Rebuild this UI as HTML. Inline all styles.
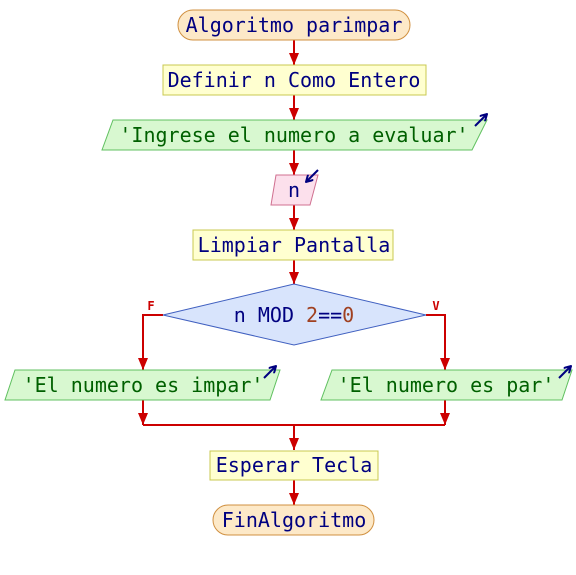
<!DOCTYPE html>
<html><head><style>
html,body{margin:0;padding:0;background:#fff;}
svg text{font-family:"DejaVu Sans Mono","Liberation Mono",monospace;font-size:20px;}
</style></head><body>
<svg width="576" height="570" viewBox="0 0 576 570" xmlns="http://www.w3.org/2000/svg">
<defs>
<marker id="a" markerWidth="12" markerHeight="10" refX="12" refY="5" orient="auto" markerUnits="userSpaceOnUse">
<path d="M0,0 L12,5 L0,10 z" fill="#cc0000"/></marker>
<marker id="b" markerWidth="8" markerHeight="8" refX="7" refY="4" orient="auto" markerUnits="userSpaceOnUse">
<path d="M0,0 L7,4 L0,8" fill="none" stroke="#000080" stroke-width="2"/></marker>
</defs>
<g stroke="#cc0000" stroke-width="2" fill="none">
<line x1="294" y1="40" x2="294" y2="65" marker-end="url(#a)"/>
<line x1="294" y1="95" x2="294" y2="120" marker-end="url(#a)"/>
<line x1="294" y1="150" x2="294" y2="175" marker-end="url(#a)"/>
<line x1="294" y1="205" x2="294" y2="230" marker-end="url(#a)"/>
<line x1="294" y1="260" x2="294" y2="284" marker-end="url(#a)"/>
<polyline points="163,315 143,315 143,370" marker-end="url(#a)"/>
<polyline points="426,315 445,315 445,370" marker-end="url(#a)"/>
<line x1="143" y1="400" x2="143" y2="425" marker-end="url(#a)"/>
<line x1="445" y1="400" x2="445" y2="425" marker-end="url(#a)"/>
<line x1="143" y1="425" x2="445" y2="425"/>
<line x1="294" y1="425" x2="294" y2="450" marker-end="url(#a)"/>
<line x1="294" y1="480" x2="294" y2="505" marker-end="url(#a)"/>
</g>
<rect x="178" y="10" width="232" height="30" rx="15" fill="#fde9c8" stroke="#d09040"/>
<rect x="163" y="65" width="263" height="30" fill="#ffffd0" stroke="#c8c850"/>
<polygon points="113,120 487,120 472,150 102,150" fill="#d8f8d0" stroke="#60c060"/>
<polygon points="276,175 318,175 310,205 271,205" fill="#fce0ec" stroke="#d07090"/>
<rect x="193" y="230" width="200" height="30" fill="#ffffd0" stroke="#c8c850"/>
<polygon points="163,315 294,284 426,315 294,345" fill="#d8e4fc" stroke="#4060c0"/>
<polygon points="15,370 280,370 270,400 5,400" fill="#d8f8d0" stroke="#60c060"/>
<polygon points="332,370 572,370 562,400 321,400" fill="#d8f8d0" stroke="#60c060"/>
<rect x="210" y="451" width="168" height="29" fill="#ffffd0" stroke="#c8c850"/>
<rect x="213" y="505" width="161" height="30" rx="15" fill="#fde9c8" stroke="#d09040"/>
<g stroke="#000080" stroke-width="2" fill="none">
<line x1="475" y1="126" x2="487" y2="114" marker-end="url(#b)"/>
<line x1="318" y1="170" x2="306" y2="182" marker-end="url(#b)"/>
<line x1="264" y1="378" x2="276" y2="366" marker-end="url(#b)"/>
<line x1="559" y1="378" x2="571" y2="366" marker-end="url(#b)"/>
</g>
<g text-anchor="middle" fill="#000080">
<text x="294" y="32">Algoritmo parimpar</text>
<text x="294" y="87">Definir n Como Entero</text>
<text x="294" y="142" fill="#006000">'Ingrese el numero a evaluar'</text>
<text x="294" y="197">n</text>
<text x="294" y="252">Limpiar Pantalla</text>
<text x="294" y="322">n MOD <tspan fill="#a04020">2</tspan>==<tspan fill="#a04020">0</tspan></text>
<text x="143" y="392" fill="#006000">'El numero es impar'</text>
<text x="446" y="392" fill="#006000">'El numero es par'</text>
<text x="294" y="472">Esperar Tecla</text>
<text x="294" y="527">FinAlgoritmo</text>
</g>
<text x="151" y="310" fill="#cc0000" style="font-size:12px;font-weight:bold" text-anchor="middle">F</text>
<text x="436" y="310" fill="#cc0000" style="font-size:12px;font-weight:bold" text-anchor="middle">V</text>
</svg>
</body></html>
